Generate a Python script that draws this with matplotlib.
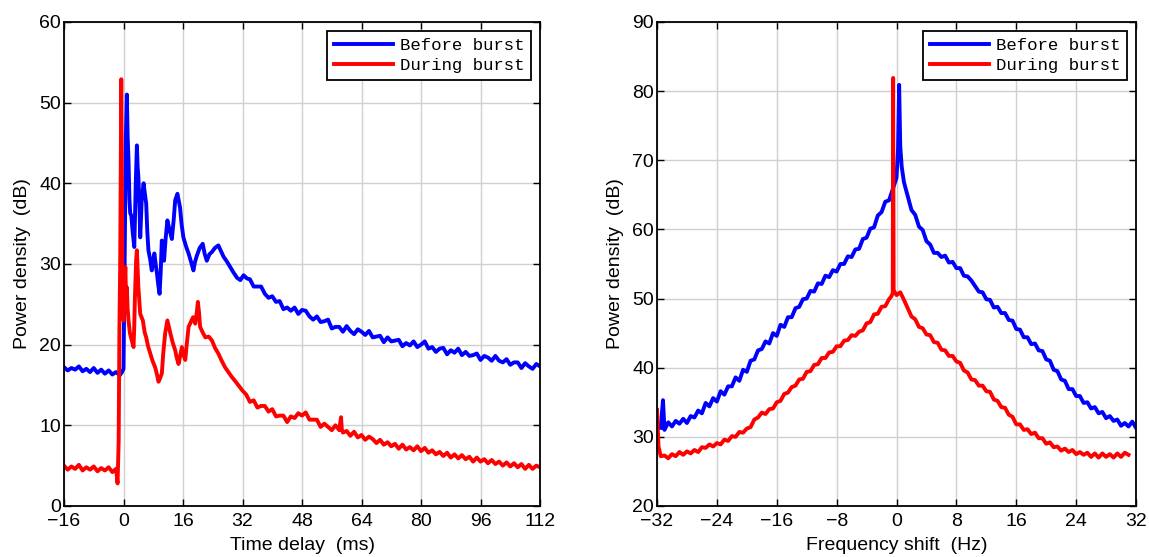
#!/usr/bin/env python3
import numpy as np
import matplotlib
matplotlib.use('Agg')
import matplotlib.pyplot as plt

# ---- left panel: power delay profile (dB vs ms) ----
# before burst
t_before_pre = np.arange(-16, 0)
db_before_pre = [17.2, 16.8, 17.1, 16.9, 17.3, 16.7, 17.0, 16.6, 17.1, 16.5, 16.9, 16.4, 16.8, 16.3, 16.6, 16.2]
t_before_burst = [-0.4, 0.0, 0.3, 0.6, 0.9, 1.1, 1.35, 1.6, 1.8, 2.1, 2.5, 2.9, 3.3, 3.6, 3.8, 4.0, 4.3, 4.5,
                  4.9, 5.4, 5.8, 6.1, 6.4, 6.7, 7.2, 7.6, 8.0, 8.3, 8.7, 9.0, 9.4, 9.7, 10.0, 10.3, 10.6,
                  10.9, 11.3, 11.8, 12.4, 13.0, 13.5, 13.9, 14.5, 15.2, 15.6, 16.1, 16.8, 17.5, 18.2, 18.8,
                  19.2, 19.7, 20.5, 21.3, 21.8, 22.4, 23.1, 23.8, 24.6, 25.5, 26.2, 26.9, 27.8, 28.7, 29.5,
                  30.5, 31.4, 32.3, 33.2]
db_before_burst = [16.6, 17.0, 30.0, 45.0, 51.0, 46.0, 42.8, 38.0, 36.3, 36.0, 33.8, 32.1, 40.0, 44.7, 42.0,
                   40.8, 37.0, 33.3, 38.0, 40.0, 38.5, 37.5, 34.0, 31.7, 30.5, 29.2, 30.5, 31.3, 29.8, 28.8,
                   27.2, 26.3, 29.0, 32.9, 31.5, 30.4, 33.0, 35.4, 34.2, 33.1, 35.5, 37.9, 38.7, 37.0, 35.0,
                   33.3, 32.2, 31.3, 30.2, 29.2, 30.2, 31.0, 32.0, 32.5, 31.3, 30.4, 31.2, 31.5, 32.0, 32.3,
                   31.6, 30.9, 30.3, 29.6, 29.0, 28.3, 28.0, 28.6, 28.2]
t_before_tail = np.arange(34, 113)
db_before_tail = [28.1, 27.2, 27.2, 27.2, 26.3, 25.8, 26.0, 25.3, 25.4, 24.4, 24.6, 24.2, 24.6, 23.8, 24.3,
                  24.2, 23.5, 23.1, 23.5, 22.8, 22.9, 23.1, 22.0, 22.2, 22.2, 21.6, 22.3, 21.7, 21.3, 21.9,
                  21.6, 21.2, 21.7, 20.9, 21.0, 21.1, 20.3, 20.9, 20.4, 20.5, 20.6, 19.8, 20.2, 19.9, 20.4,
                  19.7, 20.0, 20.4, 19.5, 19.7, 19.1, 19.5, 19.6, 18.8, 19.3, 19.0, 19.5, 18.7, 19.1, 18.6,
                  18.7, 18.9, 18.1, 18.6, 18.4, 18.0, 18.6, 18.0, 17.8, 18.2, 17.5, 17.8, 17.8, 17.1, 17.7,
                  17.3, 17.0, 17.6, 17.3]

# during burst
t_during_pre = np.arange(-16, -1)
db_during_pre = [5.0, 4.5, 4.9, 4.6, 5.1, 4.4, 4.8, 4.5, 4.9, 4.3, 4.7, 4.4, 4.8, 4.2, 4.6]
t_during_burst = [-1.6, -1.3, -1.1, -0.9, -0.7, -0.6, -0.45, -0.3, -0.15, 0.0, 0.25, 0.5, 0.7, 0.9, 1.1, 1.35,
                  1.7, 2.0, 2.4, 2.7, 2.9, 3.1, 3.4, 3.6, 3.8, 4.0, 4.3, 4.5, 5.2, 5.7, 6.1, 6.6, 7.2, 7.8,
                  8.5, 9.0, 9.4, 9.8, 10.3, 10.7, 11.2, 11.8, 12.2, 12.6, 13.2, 13.9, 14.3, 14.8, 15.2,
                  15.7, 16.1, 16.6, 17.0, 17.5, 18.1, 18.7, 19.3, 19.7, 20.0, 20.3, 20.6, 21.3, 22.0, 22.9,
                  23.8, 24.6, 25.5, 26.4, 27.3, 28.2, 29.1, 30.0, 31.0, 32.0, 33.0]
db_during_burst = [2.8, 8.0, 22.0, 29.5, 45.0, 52.9, 40.0, 29.6, 24.0, 23.0, 27.0, 29.6, 25.5, 27.1, 24.5,
                   23.0, 21.5, 20.9, 20.2, 19.7, 22.5, 26.3, 30.5, 31.7, 29.5, 27.1, 25.0, 23.8, 23.0, 21.5,
                   20.9, 19.8, 18.9, 18.0, 17.2, 16.3, 15.4, 15.8, 16.4, 19.0, 21.4, 23.0, 22.2, 21.4, 20.3,
                   19.3, 18.4, 17.6, 18.5, 19.7, 18.8, 18.1, 20.0, 22.2, 22.8, 23.4, 22.6, 24.0, 25.3, 24.0,
                   22.2, 21.5, 20.9, 21.0, 20.5, 19.6, 18.9, 18.0, 17.2, 16.6, 16.0, 15.5, 14.9, 14.3, 13.8]
t_during_tail = [34, 35, 36, 37, 38, 39, 40, 41, 42, 43, 44, 45, 46, 47, 48, 49, 50, 51, 52, 53, 54, 55, 56,
                 57, 58, 58.5, 58.7, 59, 60, 61, 62, 63, 64, 65, 66, 67, 68, 69, 70, 71, 72, 73, 74, 75, 76,
                 77, 78, 79, 80, 81, 82, 83, 84, 85, 86, 87, 88, 89, 90, 91, 92, 93, 94, 95, 96, 97, 98, 99,
                 100, 101, 102, 103, 104, 105, 106, 107, 108, 109, 110, 111, 112]
db_during_tail = [12.9, 13.1, 12.2, 12.4, 12.4, 11.7, 12.0, 11.1, 11.2, 11.2, 10.4, 11.1, 10.9, 11.5, 11.2,
                  11.6, 10.7, 10.7, 10.7, 9.8, 10.2, 9.8, 9.4, 10.0, 9.4, 11.0, 9.5, 9.1, 9.3, 8.7, 9.2,
                  8.5, 8.8, 8.2, 8.6, 8.3, 7.8, 8.2, 7.6, 7.9, 7.4, 7.7, 7.1, 7.6, 7.0, 7.3, 6.9, 7.4, 6.8,
                  7.2, 6.6, 6.9, 6.4, 6.7, 6.2, 6.6, 6.0, 6.4, 5.9, 6.3, 5.8, 6.1, 5.5, 6.0, 5.5, 5.8, 5.3,
                  5.7, 5.2, 5.5, 5.0, 5.4, 4.9, 5.3, 4.8, 5.2, 4.6, 5.1, 4.6, 5.0, 4.8]

# ---- right panel: Doppler spectrum (dB vs Hz) ----
f_before_edge = [-31.5, -31.2, -31.0]
db_before_edge = [31.3, 35.3, 31.0]
f_before_left = np.arange(-61, 0) / 2
db_before_left = [32.1, 31.5, 32.3, 31.9, 32.6, 32.0, 33.0, 32.8, 33.8, 33.4, 34.9, 34.4, 35.6, 35.1, 36.6,
                  36.1, 37.3, 37.3, 38.6, 38.1, 39.7, 39.4, 41.0, 41.2, 42.5, 42.7, 43.8, 43.5, 45.0, 44.6,
                  46.2, 45.9, 47.3, 47.3, 48.6, 48.8, 49.9, 50.0, 51.1, 51.0, 52.2, 52.1, 53.3, 53.1, 54.1,
                  53.9, 55.0, 55.0, 56.1, 56.0, 57.1, 57.2, 58.6, 58.8, 60.1, 60.3, 62.0, 62.5, 64.0, 64.2,
                  65.8]
f_before_peak = [-0.2, 0.0, 0.2, 0.35, 0.5, 0.7, 1.0]
db_before_peak = [66.8, 67.5, 71.5, 80.9, 72.0, 69.0, 66.8]
f_before_right = np.arange(3, 65) / 2
db_before_right = [64.8, 62.8, 62.1, 60.4, 59.9, 58.3, 57.8, 56.6, 56.6, 56.0, 56.2, 55.2, 55.3, 54.4, 54.4,
                   53.3, 53.2, 52.6, 51.8, 51.0, 50.9, 49.9, 49.8, 48.7, 48.8, 47.9, 47.9, 46.9, 46.8, 45.6,
                   45.5, 44.4, 44.4, 43.4, 43.5, 42.5, 42.4, 41.2, 41.0, 39.7, 39.5, 38.3, 38.1, 36.9, 36.9,
                   35.9, 35.9, 34.9, 35.0, 34.1, 34.3, 33.4, 33.6, 32.7, 33.0, 32.3, 32.5, 31.6, 32.0, 31.5,
                   32.2, 31.3]

f_during_edge = [-32.0, -31.8, -31.5]
db_during_edge = [33.9, 28.6, 27.2]
f_during_left = np.arange(-62, -1) / 2
db_during_left = [27.3, 26.9, 27.5, 27.2, 27.8, 27.4, 27.9, 27.6, 28.1, 27.8, 28.5, 28.4, 28.9, 28.6, 29.1,
                  28.9, 29.6, 29.4, 30.1, 30.0, 30.7, 30.6, 31.2, 31.4, 32.5, 32.8, 33.5, 33.3, 34.0, 34.1,
                  35.0, 35.2, 36.2, 36.4, 37.2, 37.4, 38.3, 38.4, 39.4, 39.5, 40.4, 40.5, 41.4, 41.4, 42.2,
                  42.3, 43.1, 43.1, 43.9, 44.0, 44.7, 44.6, 45.2, 45.4, 46.4, 46.6, 47.7, 47.8, 48.8, 48.9,
                  49.9]
f_during_peak = [-0.7, -0.5, -0.45, -0.38, 0.0, 0.5, 1.0]
db_during_peak = [50.3, 50.8, 81.9, 51.2, 50.5, 50.9, 49.8]
f_during_right = np.arange(3, 63) / 2
db_during_right = [48.6, 47.4, 47.0, 45.9, 45.7, 44.8, 44.7, 43.7, 43.6, 42.6, 42.5, 41.7, 41.7, 40.9, 40.7,
                   39.6, 39.3, 38.3, 38.2, 37.4, 37.4, 36.6, 36.5, 35.4, 35.2, 34.3, 34.2, 33.2, 32.9, 31.8,
                   31.8, 31.0, 31.1, 30.4, 30.6, 29.8, 29.8, 29.0, 29.2, 28.5, 28.6, 28.0, 28.3, 27.8, 28.1,
                   27.5, 27.8, 27.4, 27.7, 27.1, 27.6, 27.0, 27.6, 27.1, 27.5, 27.0, 27.6, 27.1, 27.7, 27.4]

BLUE = '#0000ff'
RED = '#ff0000'
LW = 2.8


def style_axes(ax):
    ax.grid(True, color='#d0d0d0', linewidth=1.0)
    ax.set_axisbelow(True)
    ax.tick_params(direction='in', top=True, right=True, length=5, width=1.0, labelsize=14)
    ax.tick_params(axis='x', pad=5)
    ax.tick_params(axis='y', pad=2)
    for sp in ax.spines.values():
        sp.set_linewidth(1.3)
        sp.set_color('black')
    leg = ax.legend(loc='upper right', prop={'family': 'Liberation Mono', 'size': 12.5},
                    fancybox=False, edgecolor='black', framealpha=1, handlelength=3.4,
                    borderaxespad=0.5, borderpad=0.4, labelspacing=0.3, handletextpad=0.4)
    leg.get_frame().set_linewidth(1.3)


plt.rcParams['font.family'] = ['Liberation Sans', 'DejaVu Sans']
fig = plt.figure(figsize=(11.49, 5.57), dpi=100)
ax1 = fig.add_axes([0.0557, 0.0916, 0.4143, 0.869])
ax2 = fig.add_axes([0.5718, 0.0916, 0.4169, 0.869])

t_before = np.concatenate([t_before_pre, t_before_burst, t_before_tail])
db_before = np.concatenate([db_before_pre, db_before_burst, db_before_tail])
t_during = np.concatenate([t_during_pre, t_during_burst, t_during_tail])
db_during = np.concatenate([db_during_pre, db_during_burst, db_during_tail])
ax1.plot(t_before, db_before, color=BLUE, lw=LW, label='Before burst')
ax1.plot(t_during, db_during, color=RED, lw=LW, label='During burst')
ax1.set_xlim(-16, 112)
ax1.set_ylim(0, 60)
ax1.set_xticks(np.arange(-16, 113, 16))
ax1.set_yticks(np.arange(0, 61, 10))
ax1.set_xlabel('Time delay  (ms)', fontsize=14, labelpad=5)
ax1.set_ylabel('Power density  (dB)', fontsize=14, labelpad=6)
style_axes(ax1)

f_before = np.concatenate([f_before_edge, f_before_left, f_before_peak, f_before_right])
dbf_before = np.concatenate([db_before_edge, db_before_left, db_before_peak, db_before_right])
f_during = np.concatenate([f_during_edge, f_during_left, f_during_peak, f_during_right])
dbf_during = np.concatenate([db_during_edge, db_during_left, db_during_peak, db_during_right])
ax2.plot(f_before, dbf_before, color=BLUE, lw=LW, label='Before burst')
ax2.plot(f_during, dbf_during, color=RED, lw=LW, label='During burst')
ax2.set_xlim(-32, 32)
ax2.set_ylim(20, 90)
ax2.set_xticks(np.arange(-32, 33, 8))
ax2.set_yticks(np.arange(20, 91, 10))
ax2.set_xlabel('Frequency shift  (Hz)', fontsize=14, labelpad=5)
ax2.set_ylabel('Power density  (dB)', fontsize=14, labelpad=6)
style_axes(ax2)

fig.savefig('out.png', dpi=100)
